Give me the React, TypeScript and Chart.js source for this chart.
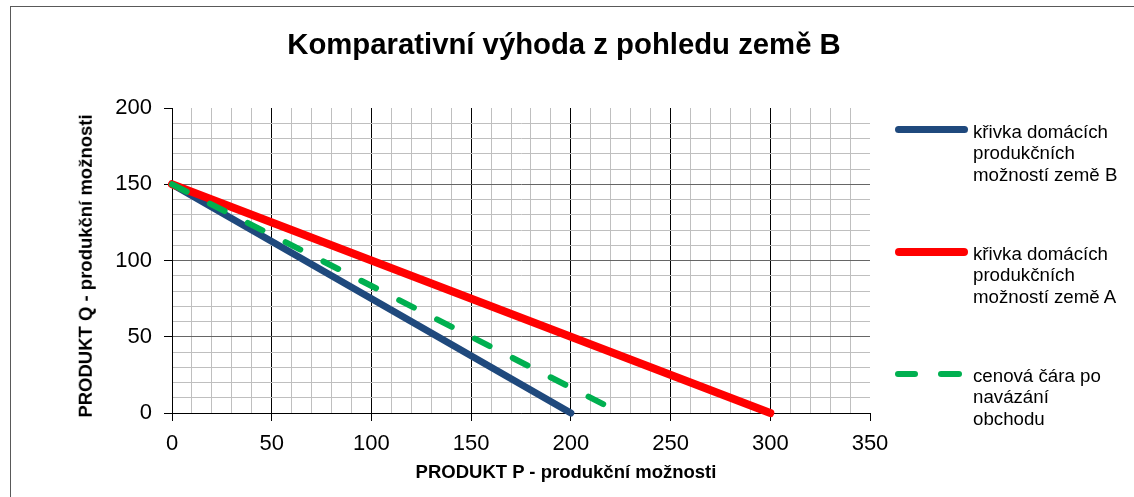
import React, { useEffect, useRef } from "react";
import { Chart, registerables } from "chart.js";

Chart.register(...registerables);

// ---- text ----
const chartTitle = "Komparativní výhoda z pohledu země B";
const xAxisTitle = "PRODUKT P - produkční možnosti";
const yAxisTitle = "PRODUKT Q - produkční možnosti";

// ---- series (P = x, Q = y) ----
const seriesLabels = [
  "křivka domácích produkčních možností země B",
  "křivka domácích produkčních možností země A",
  "cenová čára po navázání obchodu",
];
const legendLines = [
  ["křivka domácích", "produkčních", "možností země B"],
  ["křivka domácích", "produkčních", "možností země A"],
  ["cenová čára po", "navázání", "obchodu"],
];
const countryB_P = [0, 200];
const countryB_Q = [150, 0];
const countryA_P = [0, 300];
const countryA_Q = [150, 0];
const priceLine_P = [0, 225];
const priceLine_Q = [150, 0];

// ---- axes ----
const xMin = 0;
const xMax = 350;
const yMin = 0;
const yMax = 200;
const minorStep = 10;
const majorStep = 50;

const colors = ["#1F497D", "#FF0000", "#00B050"];
const FONT = "'Liberation Sans', Arial, Helvetica, sans-serif";

const toPoints = (xs: number[], ys: number[]) => xs.map((x, i) => ({ x, y: ys[i] }));

export default function App() {
  const canvasRef = useRef<HTMLCanvasElement | null>(null);

  useEffect(() => {
    const canvas = canvasRef.current;
    if (!canvas) return;
    const chart = new Chart(canvas, {
      type: "line",
      data: {
        datasets: [
          {
            label: seriesLabels[0],
            data: toPoints(countryB_P, countryB_Q),
            borderColor: colors[0],
            backgroundColor: colors[0],
            borderWidth: 7,
            order: 3,
            clip: false as any,
          },
          {
            label: seriesLabels[1],
            data: toPoints(countryA_P, countryA_Q),
            borderColor: colors[1],
            backgroundColor: colors[1],
            borderWidth: 8,
            order: 2,
            clip: false as any,
          },
          {
            label: seriesLabels[2],
            data: toPoints(priceLine_P, priceLine_Q),
            borderColor: colors[2],
            backgroundColor: colors[2],
            borderWidth: 6,
            borderDash: [16.5, 26],
            order: 1,
            clip: false as any,
          },
        ],
      },
      options: {
        animation: false,
        responsive: false,
        layout: { padding: { left: 0, top: 108, right: 264, bottom: 0 } },
        elements: {
          point: { radius: 0, hoverRadius: 0 },
          line: { tension: 0, borderCapStyle: "round", borderJoinStyle: "round" },
        },
        plugins: {
          legend: { display: false },
          title: { display: false },
          tooltip: { enabled: false },
        },
        scales: {
          x: {
            type: "linear",
            min: xMin,
            max: xMax,
            afterFit: (s: any) => {
              s.height = 84;
            },
            ticks: {
              stepSize: minorStep,
              autoSkip: false,
              maxRotation: 0,
              color: "#000",
              padding: 10,
              font: { family: FONT, size: 22 },
              callback: (v: any) => (Number(v) % majorStep === 0 ? String(v) : ""),
            },
            grid: {
              lineWidth: 1,
              tickLength: 8,
              color: (ctx: any) => {
                const v = ctx.tick ? ctx.tick.value : 0;
                if (v === xMax) return "rgba(0,0,0,0)";
                return v % majorStep === 0 ? "#000000" : "#BFBFBF";
              },
              tickColor: (ctx: any) => {
                const v = ctx.tick ? ctx.tick.value : 0;
                return v % majorStep === 0 ? "#000000" : "rgba(0,0,0,0)";
              },
            },
            border: { display: true, color: "#000", width: 1 },
          },
          y: {
            type: "linear",
            min: yMin,
            max: yMax,
            afterFit: (s: any) => {
              s.width = 172;
            },
            ticks: {
              stepSize: minorStep,
              autoSkip: false,
              color: "#000",
              padding: 12,
              font: { family: FONT, size: 22 },
              callback: (v: any) => (Number(v) % majorStep === 0 ? String(v) : ""),
            },
            grid: {
              lineWidth: 1,
              tickLength: 8,
              color: (ctx: any) => {
                const v = ctx.tick ? ctx.tick.value : 0;
                if (v === yMax) return "rgba(0,0,0,0)";
                return v % majorStep === 0 ? "#666666" : "#BFBFBF";
              },
              tickColor: (ctx: any) => {
                const v = ctx.tick ? ctx.tick.value : 0;
                return v % majorStep === 0 ? "#000000" : "rgba(0,0,0,0)";
              },
            },
            border: { display: true, color: "#000", width: 1 },
          },
        },
      } as any,
    });
    return () => chart.destroy();
  }, []);

  const legendTops = [120.7, 242.7, 364.7];
  const sampleCenters = [129.3, 251.7, 374.3];

  return (
    <div
      style={{
        position: "fixed",
        left: 0,
        top: 0,
        width: 1134,
        height: 497,
        overflow: "hidden",
        background: "#fff",
        fontFamily: FONT,
      }}
    >
      <div
        style={{
          position: "absolute",
          left: 10,
          top: 6,
          width: 1200,
          height: 600,
          border: "1px solid #595959",
        }}
      />
      <canvas
        ref={canvasRef}
        width={1134}
        height={497}
        style={{ position: "absolute", left: 0, top: 0, width: 1134, height: 497 }}
      />
      <div
        style={{
          position: "absolute",
          left: 64,
          top: 29,
          width: 1000,
          textAlign: "center",
          fontSize: 29.3,
          lineHeight: "29.3px",
          fontWeight: "bold",
          color: "#000",
          whiteSpace: "nowrap",
        }}
      >
        {chartTitle}
      </div>
      <div
        style={{
          position: "absolute",
          left: 366,
          top: 463,
          width: 400,
          textAlign: "center",
          fontSize: 18.5,
          lineHeight: "18.5px",
          fontWeight: "bold",
          color: "#000",
          whiteSpace: "nowrap",
        }}
      >
        {xAxisTitle}
      </div>
      <div
        style={{
          position: "absolute",
          left: 86,
          top: 265.5,
          width: 400,
          textAlign: "center",
          fontSize: 18.5,
          lineHeight: "18.5px",
          fontWeight: "bold",
          color: "#000",
          whiteSpace: "nowrap",
          transform: "translate(-50%, -50%) rotate(-90deg)",
        }}
      >
        {yAxisTitle}
      </div>
      {legendLines.map((lines, i) => (
        <React.Fragment key={i}>
          {i < 2 ? (
            <div
              style={{
                position: "absolute",
                left: 895,
                top: sampleCenters[i] - (i === 1 ? 4 : 3.5),
                width: 73,
                height: i === 1 ? 8 : 7,
                borderRadius: 4,
                background: colors[i],
              }}
            />
          ) : (
            <>
              <div
                style={{
                  position: "absolute",
                  left: 895,
                  top: sampleCenters[i] - 3,
                  width: 23,
                  height: 6,
                  borderRadius: 3,
                  background: colors[i],
                }}
              />
              <div
                style={{
                  position: "absolute",
                  left: 938,
                  top: sampleCenters[i] - 3,
                  width: 24,
                  height: 6,
                  borderRadius: 3,
                  background: colors[i],
                }}
              />
            </>
          )}
          <div
            style={{
              position: "absolute",
              left: 973,
              top: legendTops[i],
              fontSize: 18.7,
              lineHeight: "21.7px",
              color: "#000",
              whiteSpace: "nowrap",
            }}
          >
            {lines.map((l, j) => (
              <div key={j}>{l}</div>
            ))}
          </div>
        </React.Fragment>
      ))}
    </div>
  );
}
